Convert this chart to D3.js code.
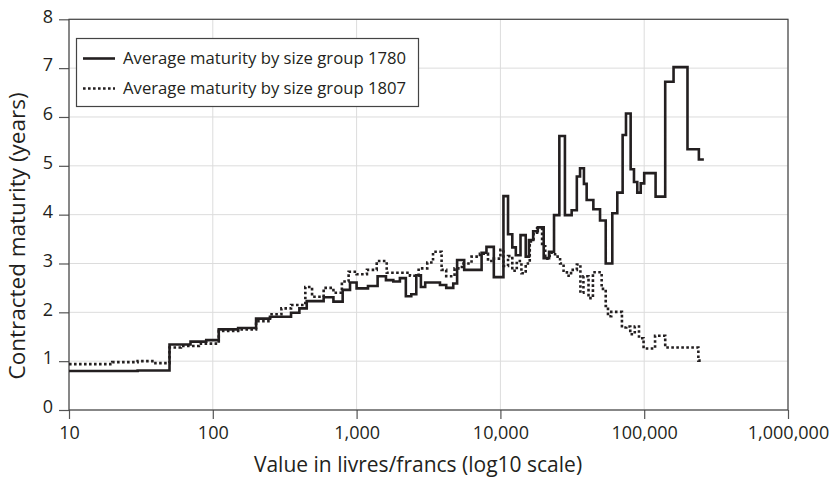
<!DOCTYPE html>
<html>
<head>
<meta charset="utf-8">
<script src="https://cdn.jsdelivr.net/npm/d3@7"></script>
<style>
    body { margin: 0; background: #fff; }
    text { font-family: "Open Sans", sans-serif; fill: #231f20; }
</style>
</head>
<body>
<div id="chart"></div>
<script>
// value thresholds (livres/francs) where each size group starts
var x1780 = [10, 30, 50, 70, 90, 110, 150, 200, 250, 350, 400, 450, 590, 690, 800, 900, 1000, 1200, 1400, 1600,
    1800, 2000, 2200, 2400, 2600, 2800, 3000, 3800, 4200, 4700, 5000, 5600, 7400, 8000, 9000, 10500, 11300, 12100,
    12800, 13800, 15000, 15800, 16900, 18200, 20000, 21800, 23600, 25700, 28100, 31300, 34000, 35800, 38100, 39800,
    44300, 49300, 54000, 60000, 65000, 70800, 74700, 80500, 84900, 89500, 94600, 100000, 120000, 140000, 160000,
    200000, 240000, 260000];
var y1780 = [0.80, 0.81, 1.34, 1.40, 1.43, 1.65, 1.68, 1.87, 1.91, 1.99, 2.08, 2.23, 2.31, 2.22, 2.46, 2.61, 2.49,
    2.54, 2.74, 2.66, 2.63, 2.70, 2.33, 2.37, 2.76, 2.52, 2.61, 2.56, 2.50, 2.59, 3.07, 2.87, 3.22, 3.34, 2.72, 4.38,
    3.60, 3.33, 3.17, 3.58, 3.14, 3.48, 3.66, 3.74, 3.11, 3.24, 3.99, 5.61, 3.99, 4.09, 4.78, 4.95, 4.63, 4.30, 4.11,
    3.88, 3.00, 4.03, 4.45, 5.63, 6.07, 4.93, 4.67, 4.45, 4.64, 4.85, 4.37, 6.72, 7.02, 5.34, 5.13, 5.13];

var x1807 = [10, 20, 30, 38, 50, 60, 80, 110, 150, 200, 250, 300, 350, 440, 490, 590, 690, 790, 880, 1000, 1180,
    1380, 1620, 2350, 2700, 3100, 3400, 3900, 4200, 4800, 5400, 6300, 7200, 8200, 9000, 10000, 10500, 11300, 12100,
    13000, 14000, 15000, 16000, 17000, 18000, 19500, 20500, 22000, 24000, 26000, 27500, 29000, 31000, 34000, 36000,
    37800, 41000, 44000, 50600, 54000, 56000, 59000, 70000, 75000, 80000, 86000, 92000, 99000, 119000, 140000,
    238000, 256000];
var y1807 = [0.94, 0.98, 1.00, 0.96, 1.28, 1.31, 1.36, 1.62, 1.65, 1.82, 1.96, 2.08, 2.15, 2.52, 2.32, 2.50, 2.40,
    2.63, 2.83, 2.78, 2.87, 3.05, 2.81, 2.75, 2.90, 3.02, 3.24, 2.87, 2.74, 2.90, 3.00, 3.14, 3.20, 3.05, 3.10, 3.28,
    2.95, 3.15, 2.85, 3.05, 2.80, 3.00, 3.45, 3.60, 3.72, 3.35, 3.10, 3.22, 3.14, 3.00, 2.85, 2.75, 2.87, 2.98, 2.40,
    2.74, 2.29, 2.82, 2.48, 2.13, 1.92, 2.01, 1.69, 1.71, 1.55, 1.71, 1.47, 1.26, 1.52, 1.28, 1.01, 1.01];

var xTicks = [10, 100, 1000, 10000, 100000, 1000000];
var yTicks = [0, 1, 2, 3, 4, 5, 6, 7, 8];
var seriesNames = ['Average maturity by size group 1780', 'Average maturity by size group 1807'];

var width = 830, height = 480;
var margin = { top: 19.3, right: 42, bottom: 70, left: 69 };
var dark = '#231f20';

var svg = d3.select('#chart').append('svg').attr('width', width).attr('height', height);

var x = d3.scaleLog().domain([10, 1000000]).range([margin.left, width - margin.right]);
var y = d3.scaleLinear().domain([0, 8]).range([height - margin.bottom, margin.top]);

// gridlines
svg.append('g')
    .selectAll('line.gx')
    .data(xTicks)
    .enter()
    .append('line')
    .attr('x1', function (d) { return x(d); })
    .attr('x2', function (d) { return x(d); })
    .attr('y1', y(0))
    .attr('y2', y(8))
    .attr('stroke', '#dcdcdc')
    .attr('stroke-width', 1);

svg.append('g')
    .selectAll('line.gy')
    .data(yTicks)
    .enter()
    .append('line')
    .attr('x1', x(10))
    .attr('x2', x(1000000))
    .attr('y1', function (d) { return y(d); })
    .attr('y2', function (d) { return y(d); })
    .attr('stroke', '#dcdcdc')
    .attr('stroke-width', 1);

// axes
var xAxis = svg.append('g')
    .attr('transform', 'translate(0,' + y(0) + ')')
    .call(d3.axisBottom(x).tickValues(xTicks).tickFormat(d3.format(',')).tickSize(9).tickPadding(7));
var yAxis = svg.append('g')
    .attr('transform', 'translate(' + x(10) + ',0)')
    .call(d3.axisLeft(y).tickValues(yTicks).tickSize(10).tickPadding(6));

[xAxis, yAxis].forEach(function (g) {
    g.select('.domain').remove();
    g.selectAll('line').attr('stroke', '#555').attr('stroke-width', 1.2);
    g.selectAll('text').attr('font-family', '"Open Sans", sans-serif').attr('font-size', 18).attr('fill', dark);
});
yAxis.selectAll('text').attr('dy', '0.15em');

// plot frame
svg.append('rect')
    .attr('x', x(10))
    .attr('y', y(8))
    .attr('width', x(1000000) - x(10))
    .attr('height', y(0) - y(8))
    .attr('fill', 'none')
    .attr('stroke', '#444')
    .attr('stroke-width', 1.2);

// step lines
var line = d3.line()
    .curve(d3.curveStepAfter)
    .x(function (d) { return x(d[0]); })
    .y(function (d) { return y(d[1]); });

svg.append('path')
    .datum(d3.zip(x1807, y1807))
    .attr('d', line)
    .attr('fill', 'none')
    .attr('stroke', dark)
    .attr('stroke-width', 2.6)
    .attr('stroke-dasharray', '2.6,2.4');

svg.append('path')
    .datum(d3.zip(x1780, y1780))
    .attr('d', line)
    .attr('fill', 'none')
    .attr('stroke', dark)
    .attr('stroke-width', 2.6);

// legend
var legend = svg.append('g');
legend.append('rect')
    .attr('x', 76.5)
    .attr('y', 38.5)
    .attr('width', 342)
    .attr('height', 68)
    .attr('fill', '#fff')
    .attr('stroke', '#444')
    .attr('stroke-width', 1.2);

legend.selectAll('line')
    .data(seriesNames)
    .enter()
    .append('line')
    .attr('x1', 83)
    .attr('x2', 115)
    .attr('y1', function (d, i) { return 58.5 + i * 30; })
    .attr('y2', function (d, i) { return 58.5 + i * 30; })
    .attr('stroke', dark)
    .attr('stroke-width', 2.6)
    .attr('stroke-dasharray', function (d, i) { return i == 1 ? '2.6,2.4' : null; });

legend.selectAll('text')
    .data(seriesNames)
    .enter()
    .append('text')
    .attr('x', 123)
    .attr('y', function (d, i) { return 58.5 + i * 30; })
    .attr('dy', '0.35em')
    .attr('font-size', 16.7)
    .text(function (d) { return d; });

// axis titles
svg.append('text')
    .attr('x', 418)
    .attr('y', 472)
    .attr('text-anchor', 'middle')
    .attr('font-size', 21)
    .text('Value in livres/francs (log10 scale)');

svg.append('text')
    .attr('transform', 'translate(25,236) rotate(-90)')
    .attr('text-anchor', 'middle')
    .attr('font-size', 22.5)
    .text('Contracted maturity (years)');
</script>
</body>
</html>
